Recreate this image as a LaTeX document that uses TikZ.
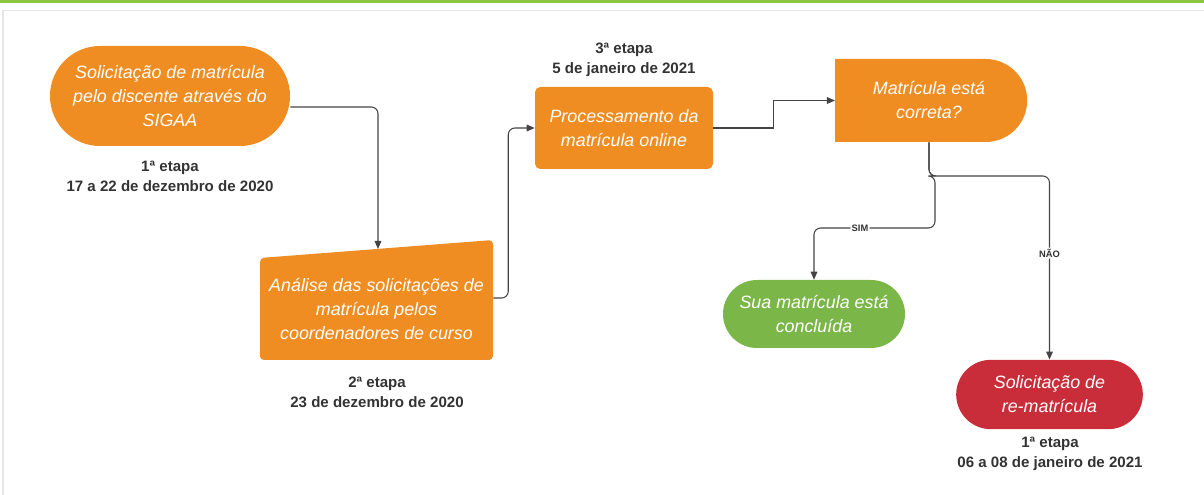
\documentclass[tikz,border=0pt]{standalone}
\usepackage{fontspec}
\setmainfont{Liberation Sans}
\usepackage{tikz}
\usetikzlibrary{shapes,arrows.meta,positioning}
\usepackage{xcolor}
\definecolor{lucidorange}{HTML}{EF8D22}
\definecolor{lucidgreen}{HTML}{7AB648}
\definecolor{lucidred}{HTML}{C92D39}
\definecolor{topgreen}{HTML}{8DC63F}
\definecolor{framegray}{HTML}{E6E6E6}
\definecolor{textgray}{HTML}{333333}
\definecolor{linegray}{HTML}{444444}

\begin{document}
\begin{tikzpicture}[x=0.75pt, y=-0.75pt,
    box/.style={fill=lucidorange, text=white, font=\fontsize{13.4}{18}\selectfont\itshape, align=center, inner sep=0pt},
    pill/.style={box, rounded rectangle},
    etapa/.style={font=\fontsize{11.3}{15}\selectfont\bfseries, text=textgray, align=center},
    link/.style={draw=linegray, line width=0.8pt, rounded corners=5pt},
    arr/.style={link, -{Triangle[length=6pt, width=5pt]}},
    answer/.style={fill=white, font=\fontsize{7}{8}\selectfont\bfseries, text=textgray, inner sep=1pt}]
    \useasboundingbox (0,0) rectangle (1204,495);

    % frame of the page
    \fill[topgreen] (0,0) rectangle (1204,3.5);
    \draw[framegray, line width=1pt] (3,495) -- (3,10.5) -- (1204,10.5);

    % steps
    \node[pill, minimum width=180pt, minimum height=75pt] (sol) at (170,96) {Solicitação de matrícula\\pelo discente através do\\SIGAA};
    \node[etapa] (sollbl) at (170,176) {1ª etapa\\17 a 22 de dezembro de 2020};

    \fill[lucidorange, rounded corners=3pt] (260,258) -- (493,240) -- (493,360) -- (260,360) -- cycle;
    \node[box, fill=none, minimum width=174.75pt, minimum height=76.5pt] (ana) at (376.5,309) {Análise das solicitações de\\matrícula pelos\\coordenadores de curso};
    \coordinate (anain) at (378,249);
    \node[etapa] (analbl) at (377,392) {2ª etapa\\23 de dezembro de 2020};

    \node[box, rounded corners=4pt, minimum width=133.5pt, minimum height=61.5pt] (proc) at (624,128) {Processamento da\\matrícula online};
    \node[etapa] (proclbl) at (624,60) {3ª etapa\\5 de janeiro de 2021};

    \node[pill, rounded rectangle west arc=none, minimum width=144pt, minimum height=62.25pt] (check) at (929,100.5) {Matrícula está\\correta?};

    \node[pill, fill=lucidgreen, minimum width=136.5pt, minimum height=51pt] (done) at (814,314) {Sua matrícula está\\concluída};

    \node[pill, fill=lucidred, minimum width=140pt, minimum height=52pt] (redo) at (1049.5,394.5) {Solicitação de\\re-matrícula};
    \node[etapa] (redolbl) at (1050,454) {1ª etapa\\06 a 08 de janeiro de 2021};

    % connectors
    \draw[arr] (sol.east |- 0,107) -| (anain);
    \draw[arr] (ana.east |- 0,298) -- ++(15,0) |- (proc.west);
    \draw[arr, rounded corners=0pt] (proc.east) -- ++(60,0) |- (check.west);
    \draw[arr] (check.south) |- (935,176) -- (935,228) -| node[answer, pos=0.31] {SIM} (done.north);
    \draw[arr] (check.south) |- (redo.north |- 0,176) -- node[answer, pos=0.42] {NÃO} (redo.north);
\end{tikzpicture}
\end{document}
